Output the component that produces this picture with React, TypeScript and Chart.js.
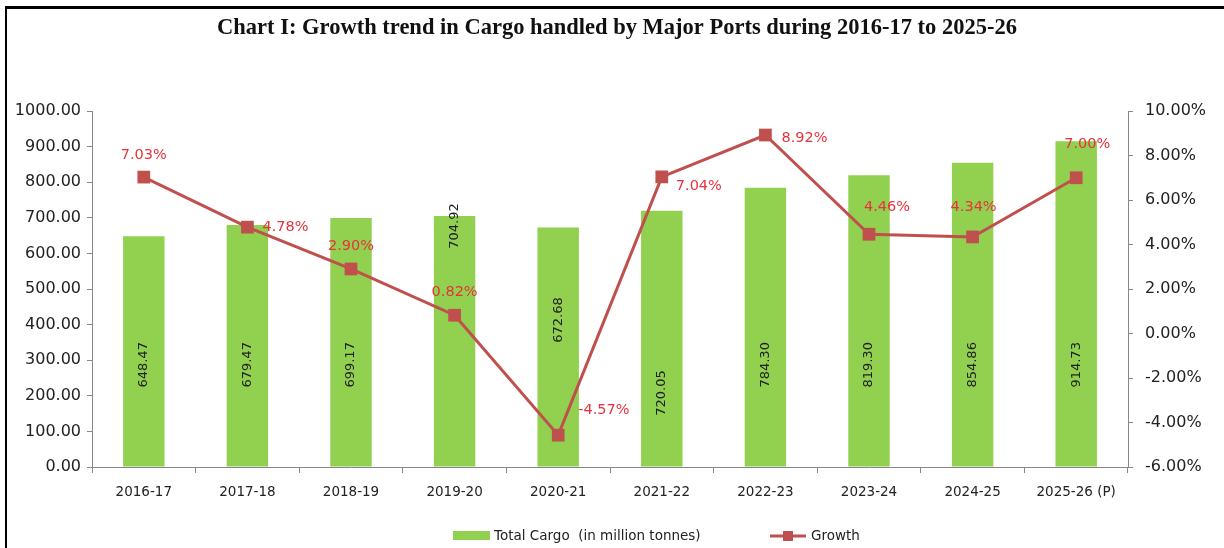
import React, { useEffect, useRef } from "react";
import { Chart, registerables } from "chart.js";

Chart.register(...registerables);

const categories = ["2016-17", "2017-18", "2018-19", "2019-20", "2020-21", "2021-22", "2022-23", "2023-24", "2024-25", "2025-26 (P)"];
const totalCargo = [648.47, 679.47, 699.17, 704.92, 672.68, 720.05, 784.3, 819.3, 854.86, 914.73];
const growth = [7.03, 4.78, 2.9, 0.82, -4.57, 7.04, 8.92, 4.46, 4.34, 7.0];
const leftTicks = [0, 100, 200, 300, 400, 500, 600, 700, 800, 900, 1000];
const rightTicks = [-6, -4, -2, 0, 2, 4, 6, 8, 10];

const TITLE = "Chart I: Growth trend in Cargo handled by Major Ports during 2016-17 to 2025-26";
const BAR_LABEL = "Total Cargo  (in million tonnes)";
const LINE_LABEL = "Growth";

// label placement styles (value-axis anchor for bar labels, pixel offsets for growth labels)
const barLabelAnchor = [287, 287, 287, 677, 413, 208, 287, 287, 287, 287];
const growthLabelOffset: [number, number, string][] = [
  [0, -22, "center"], [15, 0, "left"], [0, -23, "center"], [0, -23, "center"], [20, -25, "left"],
  [14, 9, "left"], [16, 3, "left"], [18, -27, "center"], [1, -30, "center"], [11, -34, "center"],
];

const GREEN = "#92d050";
const RED = "#c0504d";
const LABEL_RED = "#e8323c";
const FONT = "'DejaVu Sans', Verdana, sans-serif";

const decor = {
  id: "decor",
  beforeDraw(chart: any) {
    const ctx = chart.ctx;
    ctx.save();
    ctx.fillStyle = "#fff";
    ctx.fillRect(0, 0, chart.width, chart.height);
    ctx.fillStyle = "#000";
    ctx.fillRect(6, 6, chart.width - 6, 3);
    ctx.fillRect(5, 6, 2, chart.height - 6);
    ctx.fillStyle = "#111";
    ctx.font = "bold 22.5px 'Liberation Serif', 'Times New Roman', serif";
    ctx.textAlign = "center";
    ctx.textBaseline = "middle";
    ctx.fillText(TITLE, 617, 28);
    ctx.restore();
  },
  afterDatasetsDraw(chart: any) {
    const ctx = chart.ctx;
    const y1 = chart.scales.y;
    const bars = chart.getDatasetMeta(0).data;
    const pts = chart.getDatasetMeta(1).data;
    ctx.save();
    ctx.font = `13px ${FONT}`;
    ctx.fillStyle = "#222";
    ctx.textAlign = "center";
    ctx.textBaseline = "middle";
    bars.forEach((b: any, i: number) => {
      ctx.save();
      ctx.translate(b.x, y1.getPixelForValue(barLabelAnchor[i]));
      ctx.rotate(-Math.PI / 2);
      ctx.fillText(totalCargo[i].toFixed(2), 0, 0);
      ctx.restore();
    });
    ctx.fillStyle = LABEL_RED;
    ctx.font = `14.5px ${FONT}`;
    pts.forEach((p: any, i: number) => {
      const [dx, dy, al] = growthLabelOffset[i];
      ctx.textAlign = al;
      ctx.fillText(growth[i].toFixed(2) + "%", p.x + dx, p.y + dy);
    });
    // legend
    ctx.textAlign = "left";
    ctx.fillStyle = GREEN;
    ctx.fillRect(453, 531, 37, 9);
    ctx.fillStyle = "#222";
    ctx.font = `13.5px ${FONT}`;
    ctx.fillText(BAR_LABEL, 494, 536);
    ctx.strokeStyle = RED;
    ctx.lineWidth = 3;
    ctx.beginPath();
    ctx.moveTo(770, 536);
    ctx.lineTo(806, 536);
    ctx.stroke();
    ctx.fillStyle = RED;
    ctx.fillRect(783, 531, 10, 10);
    ctx.fillStyle = "#222";
    ctx.fillText(LINE_LABEL, 811, 536);
    ctx.restore();
  },
};

export default function App() {
  const ref = useRef<HTMLCanvasElement>(null);
  useEffect(() => {
    if (!ref.current) return;
    const chart = new Chart(ref.current, {
      type: "bar",
      data: {
        labels: categories,
        datasets: [
          {
            type: "bar",
            label: BAR_LABEL,
            data: totalCargo,
            backgroundColor: GREEN,
            barPercentage: 0.4,
            categoryPercentage: 1,
            yAxisID: "y",
            order: 1,
          },
          {
            type: "line",
            label: LINE_LABEL,
            data: growth,
            borderColor: RED,
            backgroundColor: RED,
            borderWidth: 3,
            pointStyle: "rect",
            pointRadius: 9,
            pointBackgroundColor: RED,
            pointBorderColor: RED,
            pointBorderWidth: 0,
            yAxisID: "y2",
            order: 0,
            tension: 0,
          } as any,
        ],
      },
      options: {
        responsive: false,
        animation: false,
        devicePixelRatio: 1,
        layout: { padding: { top: 111, left: 0, right: 0, bottom: 0 } },
        plugins: { legend: { display: false }, tooltip: { enabled: false }, title: { display: false } },
        scales: {
          x: {
            offset: true,
            grid: { offset: true, drawOnChartArea: false, tickLength: 6, color: "#888" },
            border: { color: "#888", width: 1 },
            ticks: { font: { family: FONT, size: 13.5 }, color: "#222", padding: 11, maxRotation: 0 },
            afterFit: (s: any) => { s.height = 81; },
          },
          y: {
            position: "left",
            min: 0,
            max: 1000,
            afterBuildTicks: (s: any) => { s.ticks = leftTicks.map((v) => ({ value: v })); },
            grid: { drawOnChartArea: false, tickLength: 5, color: "#888" },
            border: { color: "#888", width: 1 },
            ticks: { font: { family: FONT, size: 16 }, color: "#222", padding: 6, callback: (v: any) => Number(v).toFixed(2) },
            afterFit: (s: any) => { s.width = 92; },
          },
          y2: {
            position: "right",
            min: -6,
            max: 10,
            afterBuildTicks: (s: any) => { s.ticks = rightTicks.map((v) => ({ value: v })); },
            grid: { drawOnChartArea: false, tickLength: 5, color: "#888" },
            border: { color: "#888", width: 1 },
            ticks: { font: { family: FONT, size: 16 }, color: "#222", padding: 12, callback: (v: any) => Number(v).toFixed(2) + "%" },
            afterFit: (s: any) => { s.width = 96; },
          },
        },
      },
      plugins: [decor],
    });
    return () => chart.destroy();
  }, []);
  return (
    <div style={{ position: "fixed", left: 0, top: 0, width: 1224, height: 548 }}>
      <canvas ref={ref} width={1224} height={548} style={{ display: "block" }} />
    </div>
  );
}
